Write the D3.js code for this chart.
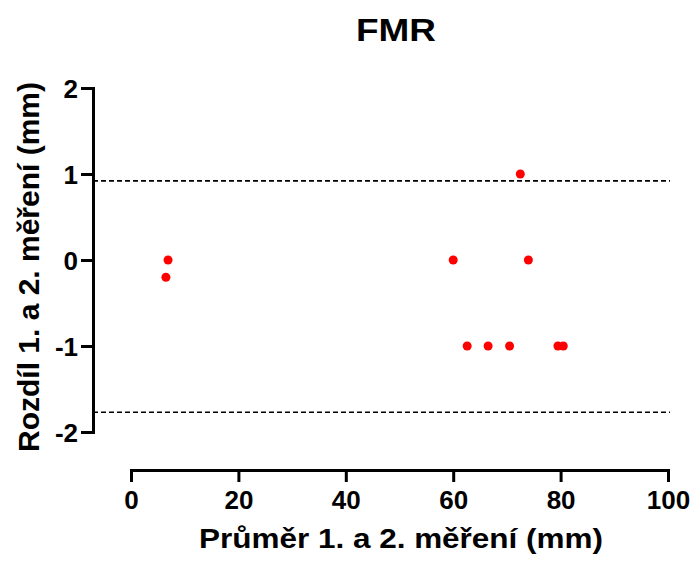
<!DOCTYPE html>
<html>
<head>
<meta charset="utf-8">
<script src="https://cdn.jsdelivr.net/npm/d3@7"></script>
<style>
  body { margin: 0; background: #fff; }
  text { font-family: "Liberation Sans", Arial, sans-serif; font-weight: bold; }
</style>
</head>
<body>
<div class="chart"></div>
<script>
var svgWidth = 698;
var svgHeight = 565;

// data
var meanVals = [6.9, 6.5, 60.0, 72.5, 74.0, 62.6, 66.5, 70.5, 79.5, 80.5];
var diffVals = [0, -0.2, 0, 1, 0, -1, -1, -1, -1, -1];
var limits = [0.92, -1.77];
var xTicks = [0, 20, 40, 60, 80, 100];
var yTicks = [-2, -1, 0, 1, 2];

var svg = d3.select(".chart")
  .append("svg")
  .attr("width", svgWidth)
  .attr("height", svgHeight);

var x = d3.scaleLinear().domain([0, 100]).range([131, 668]);
var y = d3.scaleLinear().domain([-2, 2]).range([432, 88]);

// title
svg.append("text")
  .attr("x", 396)
  .attr("y", 41)
  .attr("text-anchor", "middle")
  .attr("textLength", 80)
  .attr("lengthAdjust", "spacingAndGlyphs")
  .style("font-size", "32px")
  .text("FMR");

// limit lines
svg.selectAll(".limit")
  .data(limits)
  .enter()
  .append("line")
  .attr("x1", 93)
  .attr("x2", 670)
  .attr("y1", d => y(d))
  .attr("y2", d => y(d))
  .attr("stroke", "#000")
  .attr("stroke-width", 1.6)
  .attr("stroke-dasharray", "5,3");

var fmt = d => (d < 0 ? "-" + Math.abs(d) : "" + d);

// y axis
var yAxis = svg.append("g")
  .attr("transform", "translate(93,0)")
  .call(d3.axisLeft(y).tickValues(yTicks).tickFormat(fmt).tickSize(12).tickSizeOuter(0).tickPadding(3));

// x axis
var xAxis = svg.append("g")
  .attr("transform", "translate(0,470)")
  .call(d3.axisBottom(x).tickValues(xTicks).tickFormat(fmt).tickSize(12).tickSizeOuter(0).tickPadding(9));

[yAxis, xAxis].forEach(function (g) {
  g.select(".domain").attr("stroke-width", 3).attr("stroke-linecap", "square");
  g.selectAll(".tick line").attr("stroke-width", 3);
  g.selectAll(".tick text")
    .style("font-size", "26px")
    .style("font-family", "Liberation Sans, Arial, sans-serif")
    .style("font-weight", "bold")
    .attr("fill", "#000");
});
yAxis.selectAll(".tick text").attr("dy", "0.36em");

// points
svg.selectAll("circle")
  .data(meanVals)
  .enter()
  .append("circle")
  .attr("cx", d => x(d))
  .attr("cy", (d, i) => y(diffVals[i]))
  .attr("r", 4.5)
  .attr("fill", "#ff0000");

// axis labels
svg.append("text")
  .attr("transform", "translate(39,267) rotate(-90)")
  .attr("text-anchor", "middle")
  .attr("textLength", 370)
  .attr("lengthAdjust", "spacingAndGlyphs")
  .style("font-size", "29px")
  .text("Rozdíl 1. a 2. měření (mm)");

svg.append("text")
  .attr("x", 401)
  .attr("y", 548)
  .attr("text-anchor", "middle")
  .attr("textLength", 404)
  .attr("lengthAdjust", "spacingAndGlyphs")
  .style("font-size", "28px")
  .text("Průměr 1. a 2. měření (mm)");
</script>
</body>
</html>
